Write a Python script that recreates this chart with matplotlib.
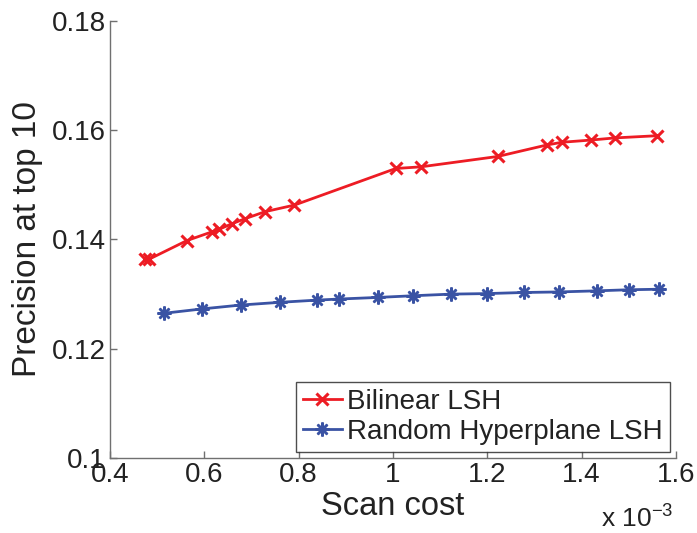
import matplotlib
matplotlib.use("Agg")
import matplotlib.pyplot as plt

plt.rcParams['font.family'] = ['Liberation Sans', 'DejaVu Sans']
plt.rcParams['mathtext.fontset'] = 'custom'
plt.rcParams['mathtext.rm'] = 'Liberation Sans'
plt.rcParams['mathtext.it'] = 'Liberation Sans'

# Scan cost (x 10^-3)
bilinear_x = [0.474, 0.483, 0.563, 0.616, 0.632, 0.659, 0.686, 0.729, 0.791,
              1.006, 1.059, 1.222, 1.326, 1.358, 1.419, 1.471, 1.560]
bilinear_y = [0.1365, 0.1364, 0.1398, 0.1414, 0.1419, 0.1429, 0.1438, 0.1451, 0.1463,
              0.1530, 0.1533, 0.1552, 0.1573, 0.1578, 0.1582, 0.1586, 0.1590]

random_x = [0.515, 0.596, 0.677, 0.760, 0.838, 0.886, 0.969, 1.042,
            1.123, 1.199, 1.278, 1.352, 1.432, 1.500, 1.565]
random_y = [0.1265, 0.1273, 0.1280, 0.1285, 0.1289, 0.1291, 0.1294, 0.1297,
            0.1300, 0.1301, 0.1303, 0.1304, 0.1306, 0.1308, 0.1309]

xticks = [0.4, 0.6, 0.8, 1.0, 1.2, 1.4, 1.6]
xticklabels = ['0.4', '0.6', '0.8', '1', '1.2', '1.4', '1.6']
yticks = [0.10, 0.12, 0.14, 0.16, 0.18]
yticklabels = ['0.1', '0.12', '0.14', '0.16', '0.18']

W, H = 697, 533
fig = plt.figure(figsize=(W / 100, H / 100), dpi=100)
ax = fig.add_axes([110 / W, (H - 458) / H, (676 - 110) / W, (458 - 21) / H])

red = '#ED1C24'
blue = '#3A53A4'
ax.plot(bilinear_x, bilinear_y, color=red, lw=2.0, marker='x', ms=9, mew=2.2,
        label='Bilinear LSH')
ax.plot(random_x, random_y, color=blue, lw=2.0, marker=(8, 2, 0), ms=10, mew=1.8,
        label='Random Hyperplane LSH')

ax.set_xlim(0.4, 1.6)
ax.set_ylim(0.1, 0.18)
ax.set_xticks(xticks)
ax.set_xticklabels(xticklabels)
ax.set_yticks(yticks)
ax.set_yticklabels(yticklabels)

for s in ['top', 'right']:
    ax.spines[s].set_visible(False)
for s in ['left', 'bottom']:
    ax.spines[s].set_color('#707070')
    ax.spines[s].set_linewidth(1.0)
ax.tick_params(direction='in', length=5, width=1.0, color='#707070',
               labelsize=20, labelcolor='#222222', pad=3)

ax.set_xlabel('Scan cost', fontsize=23.5, color='#222222', labelpad=2)
ax.set_ylabel('Precision at top 10', fontsize=24, color='#222222', labelpad=6)

leg = ax.legend(loc='lower right', bbox_to_anchor=(0.989, 0.014), borderaxespad=0,
                fontsize=20, frameon=True, fancybox=False, handlelength=1.4,
                handletextpad=0.2, borderpad=0.25, labelspacing=0.15,
                handleheight=0.7)
leg.get_frame().set_edgecolor('#222222')
leg.get_frame().set_linewidth(1.0)
for t in leg.get_texts():
    t.set_color('#222222')

fig.text(601 / W, (H - 528) / H, r'x 10$^{-3}$', fontsize=19, color='#222222',
         ha='left', va='baseline')

fig.savefig('out.png', dpi=100)
